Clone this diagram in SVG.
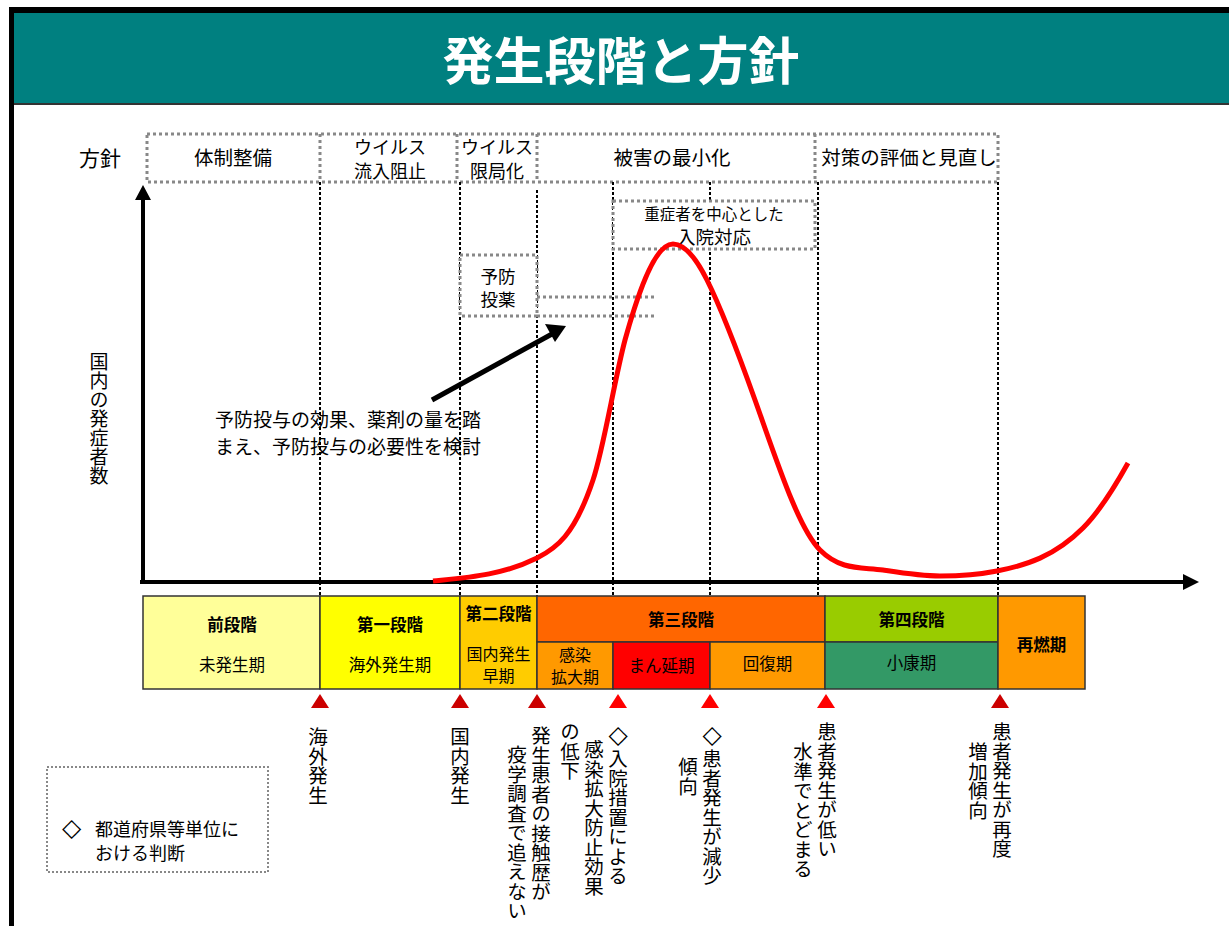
<svg xmlns="http://www.w3.org/2000/svg" width="1229" height="926" viewBox="0 0 1229 926">
<style>
text{font-family:"Noto Sans CJK JP","Liberation Sans",sans-serif;fill:#000}
.t{font-size:19.5px}
.t2{font-size:18px}
.n{font-size:19px}
.c{text-anchor:middle}
.b{font-weight:bold}
.s{font-size:16.5px}
.v{writing-mode:vertical-rl;font-size:19.5px}
.dm{font-family:"DejaVu Sans",sans-serif;font-size:25px}
.gd{fill:none;stroke:#888;stroke-width:3;stroke-dasharray:3 3}
.gdw{fill:#fff;stroke:#888;stroke-width:3;stroke-dasharray:3 3}
.kd{fill:none;stroke:#000;stroke-width:2;stroke-dasharray:3 2}
.bar{stroke:#333;stroke-width:1.5}
.tri1{fill:#CC0000}
.tri2{fill:#FF0000}
</style>
<rect x="0" y="0" width="1229" height="926" fill="#fff"/>
<g id="frame">
<rect x="9" y="7" width="1220" height="7" fill="#000"/>
<rect x="9" y="7" width="5" height="919" fill="#000"/>
<rect x="14" y="13" width="1215" height="91" fill="#008080"/>
<rect x="14" y="103" width="1215" height="2" fill="#333"/>
<text x="621" y="80" class="c b" style="font-size:51px;fill:#fff">発生段階と方針</text>
</g>
<g id="policy">
<text x="100" y="166" class="c" style="font-size:21px">方針</text>
<rect x="147" y="134" width="851" height="48" class="gd"/>
<line x1="320" y1="134" x2="320" y2="182" class="gd"/>
<line x1="457" y1="134" x2="457" y2="182" class="gd"/>
<line x1="537" y1="134" x2="537" y2="182" class="gd"/>
<line x1="815" y1="134" x2="815" y2="182" class="gd"/>
<text x="233" y="165" class="t c">体制整備</text>
<text x="390" y="154" class="t2 c">ウイルス</text>
<text x="390" y="178" class="t2 c">流入阻止</text>
<text x="497" y="154" class="t2 c">ウイルス</text>
<text x="497" y="178" class="t2 c">限局化</text>
<text x="672" y="165" class="t c">被害の最小化</text>
<text x="909" y="165" class="t c">対策の評価と見直し</text>
</g>
<g id="connectors">
<line x1="320" y1="182" x2="320" y2="596" class="kd"/>
<line x1="460" y1="182" x2="460" y2="596" class="kd"/>
<line x1="537" y1="190" x2="537" y2="596" class="kd"/>
<line x1="613" y1="182" x2="613" y2="596" class="kd"/>
<line x1="710" y1="182" x2="710" y2="596" class="kd"/>
<line x1="818" y1="182" x2="818" y2="596" class="kd"/>
<line x1="998" y1="182" x2="998" y2="596" class="kd"/>
<line x1="537" y1="297" x2="655" y2="297" class="gd"/>
<line x1="537" y1="316" x2="655" y2="316" class="gd"/>
</g>
<g id="box-nyuin">
<rect x="613" y="201" width="202" height="48" class="gdw"/>
<text x="714" y="220" class="c" style="font-size:15.5px">重症者を中心とした</text>
<text x="714" y="244" class="c" style="font-size:18.5px">入院対応</text>
</g>
<g id="box-yobou">
<rect x="460" y="255" width="77" height="61" class="gdw"/>
<text x="498" y="283" class="c" style="font-size:17.5px">予防</text>
<text x="498" y="306" class="c" style="font-size:17.5px">投薬</text>
</g>
<g id="axes">
<line x1="143" y1="584" x2="143" y2="198" stroke="#000" stroke-width="4"/>
<polygon points="135,200 143,185 151,200" fill="#000"/>
<line x1="140" y1="582" x2="1186" y2="582" stroke="#000" stroke-width="4"/>
<polygon points="1183,574 1199,582 1183,590" fill="#000"/>
<text x="99" y="352" class="v" style="font-size:19px">国内の発症者数</text>
</g>
<g id="curve">
<path d="M433,581 C467.7,577.5 502.3,575.3 537,558 C555.7,548.7 574.3,536 593,480 C603.7,448 614.3,380.5 625,340 C641,282 657,244 673,244 C684.3,244 695.7,257.3 707,280 C723,312 739,355.2 755,400 C776.7,460.7 798.3,528.3 820,550 C841,571 862,566.9 883,570 C902,572.9 921,576 940,576 C959,576 978,574.8 997,571 C1025.7,565.3 1054.3,556.7 1083,528 C1098,513 1113,490 1128,463" fill="none" stroke="#FF0000" stroke-width="5"/>
</g>
<g id="note-arrow">
<line x1="432" y1="400" x2="552" y2="334" stroke="#000" stroke-width="5"/>
<polygon points="566,326 545,324 555,342" fill="#000"/>
<text x="215" y="427" class="n">予防投与の効果、薬剤の量を踏</text>
<text x="215" y="454" class="n">まえ、予防投与の必要性を検討</text>
</g>
<g id="stage-pre">
<rect x="143" y="596" width="177" height="93" fill="#FFFF99" class="bar"/>
<text x="232" y="631" class="s c b">前段階</text>
<text x="232" y="671" class="s c">未発生期</text>
</g>
<g id="stage-1">
<rect x="320" y="596" width="140" height="93" fill="#FFFF00" class="bar"/>
<text x="390" y="631" class="s c b">第一段階</text>
<text x="390" y="671" class="s c">海外発生期</text>
</g>
<g id="stage-2">
<rect x="460" y="596" width="77" height="93" fill="#FFCC00" class="bar"/>
<text x="498.5" y="620" class="s c b">第二段階</text>
<text x="498.5" y="660" class="c" style="font-size:16px">国内発生</text>
<text x="498.5" y="682" class="c" style="font-size:16px">早期</text>
</g>
<g id="stage-3">
<rect x="537" y="596" width="288" height="46" fill="#FF6600" class="bar"/>
<text x="681" y="626" class="s c b">第三段階</text>
<rect x="537" y="642" width="76" height="47" fill="#FF9900" class="bar"/>
<text x="575" y="661" class="c" style="font-size:16px">感染</text>
<text x="575" y="683" class="c" style="font-size:16px">拡大期</text>
<rect x="613" y="642" width="97" height="47" fill="#FF0000" class="bar"/>
<text x="661.5" y="672" class="s c">まん延期</text>
<rect x="710" y="642" width="115" height="47" fill="#FF9900" class="bar"/>
<text x="767.5" y="670" class="s c">回復期</text>
</g>
<g id="stage-4">
<rect x="825" y="596" width="173" height="46" fill="#99CC00" class="bar"/>
<text x="911.5" y="626" class="s c b">第四段階</text>
<rect x="825" y="642" width="173" height="47" fill="#339966" class="bar"/>
<text x="911.5" y="669" class="s c">小康期</text>
</g>
<g id="stage-sainen">
<rect x="998" y="596" width="87" height="93" fill="#FF9900" class="bar"/>
<text x="1041.5" y="651" class="s c b">再燃期</text>
</g>
<g id="markers">
<polygon points="320,694 311,708 329,708" class="tri1"/>
<polygon points="460,694 451,708 469,708" class="tri1"/>
<polygon points="537,694 528,708 546,708" class="tri1"/>
<polygon points="618,694 609,708 627,708" class="tri2"/>
<polygon points="710,694 701,708 719,708" class="tri2"/>
<polygon points="826,694 817,708 835,708" class="tri2"/>
<polygon points="1000,694 991,708 1009,708" class="tri1"/>
</g>
<g id="events">
<text x="318" y="727" class="v">海外発生</text>
<text x="460" y="727" class="v">国内発生</text>
<text x="541" y="726" class="v">発生患者の接触歴が</text>
<text x="517" y="745" class="v">疫学調査で追えない</text>
<text x="618" y="720" class="v"><tspan class="dm">◇</tspan>入院措置による</text>
<text x="594" y="740" class="v">感染拡大防止効果</text>
<text x="570" y="722" class="v">の低下</text>
<text x="712" y="720" class="v"><tspan class="dm">◇</tspan>患者発生が減少</text>
<text x="688" y="757" class="v">傾向</text>
<text x="827" y="722" class="v">患者発生が低い</text>
<text x="803" y="742" class="v">水準でとどまる</text>
<text x="1002" y="722" class="v">患者発生が再度</text>
<text x="978" y="742" class="v">増加傾向</text>
</g>
<g id="legend">
<rect x="47" y="767" width="221" height="105" fill="none" stroke="#888" stroke-width="2" stroke-dasharray="2 2"/>
<text x="62" y="836" class="dm">◇</text>
<text x="95" y="836" style="font-size:18px">都道府県等単位に</text>
<text x="95" y="860" style="font-size:18px">おける判断</text>
</g>
</svg>
